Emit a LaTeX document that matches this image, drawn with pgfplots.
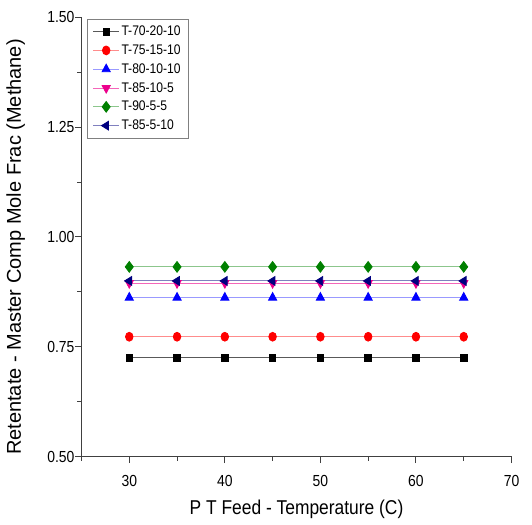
\documentclass[border=0pt]{standalone}
\usepackage{pgfplots}
\pgfplotsset{compat=1.18}
\usepackage{fontspec}
\setmainfont{Liberation Sans}
\newfontfamily\narrowfont{Liberation Sans}[FakeStretch=0.87]
\definecolor{dgreen}{RGB}{0,128,0}
\definecolor{navyb}{RGB}{0,0,128}
\begin{document}
\begin{tikzpicture}[x=1pt,y=1pt]
\useasboundingbox (-81.5,-67.3) rectangle (450.5,456.7);
\begin{axis}[
  at={(0,0)}, anchor=origin,
  scale only axis, width=430pt, height=439.4pt,
  xmin=25, xmax=70, ymin=0.5, ymax=1.5,
  axis lines=left, axis line style={line width=1.2pt, color=black!75, -},
  xtick={30,40,50,60,70}, minor xtick={25,35,45,55,65},
  ytick={0.5,0.75,1.0,1.25,1.5}, minor ytick={0.625,0.875,1.125,1.375},
  tick align=outside, major tick length=6.5pt, minor tick length=4pt,
  every tick/.style={line width=1pt, color=black!75},
  /pgf/number format/assume math mode=true,
  xticklabel style={font=\narrowfont\fontsize{16}{19}\selectfont, yshift=-9pt},
  yticklabel style={font=\narrowfont\fontsize{16}{19}\selectfont, xshift=3pt, /pgf/number format/fixed, /pgf/number format/fixed zerofill, /pgf/number format/precision=2},
  xlabel={P T Feed - Temperature (C)},
  ylabel={Retentate - Master Comp Mole Frac (Methane)},
  xlabel style={font=\narrowfont\fontsize{20}{24}\selectfont, at={(axis description cs:0.5,0)}, yshift=-40pt, anchor=north},
  ylabel style={font=\fontsize{20}{24}\selectfont, at={(axis description cs:-0.123,0.477)}, anchor=south},
  clip=false,
  legend style={at={(axis description cs:0.0128,0.997)}, anchor=north west, draw=black!50, line width=0.8pt,
    font=\narrowfont\fontsize{13.9}{16}\selectfont, row sep=3.6pt, inner xsep=5.5pt, inner ysep=5pt,
    cells={anchor=west}},
  legend image code/.code={\draw[mark repeat=2,mark phase=2] plot coordinates {(0pt,0pt) (12.85pt,0pt) (25.7pt,0pt)};},
]
\addplot[color=black!65, line width=0.9pt, mark=square*, mark size=3.6pt, mark options={fill=black, draw=black, xscale=0.9}]
 coordinates {(30,0.725) (35,0.725) (40,0.725) (45,0.725) (50,0.725) (55,0.725) (60,0.725) (65,0.725)};
\addlegendentry{T-70-20-10}
\addplot[color=red!45, line width=0.9pt, mark=*, mark size=4.4pt, mark options={fill=red, draw=red, xscale=0.85}]
 coordinates {(30,0.773) (35,0.773) (40,0.773) (45,0.773) (50,0.773) (55,0.773) (60,0.773) (65,0.773)};
\addlegendentry{T-75-15-10}
\addplot[color=blue!40, line width=0.9pt, mark=triangle*, mark size=5pt, mark options={fill=blue, draw=blue, xscale=0.93}]
 coordinates {(30,0.862) (35,0.862) (40,0.862) (45,0.862) (50,0.862) (55,0.862) (60,0.862) (65,0.862)};
\addlegendentry{T-80-10-10}
\addplot[color=magenta!60, line width=0.9pt, mark=triangle*, mark size=5pt, mark options={fill=magenta, draw=magenta, rotate=180, xscale=0.93}]
 coordinates {(30,0.895) (35,0.895) (40,0.895) (45,0.895) (50,0.895) (55,0.895) (60,0.895) (65,0.895)};
\addlegendentry{T-85-10-5}
\addplot[color=dgreen!45, line width=0.9pt, mark=diamond*, mark size=5.3pt, mark options={fill=dgreen, draw=dgreen}]
 coordinates {(30,0.932) (35,0.932) (40,0.932) (45,0.932) (50,0.932) (55,0.932) (60,0.932) (65,0.932)};
\addlegendentry{T-90-5-5}
\addplot[color=navyb!50, line width=0.9pt, mark=triangle*, mark size=5pt, mark options={fill=navyb, draw=navyb, rotate=90, yscale=0.93}]
 coordinates {(30,0.900) (35,0.900) (40,0.900) (45,0.900) (50,0.900) (55,0.900) (60,0.900) (65,0.900)};
\addlegendentry{T-85-5-10}
\end{axis}
\end{tikzpicture}
\end{document}
